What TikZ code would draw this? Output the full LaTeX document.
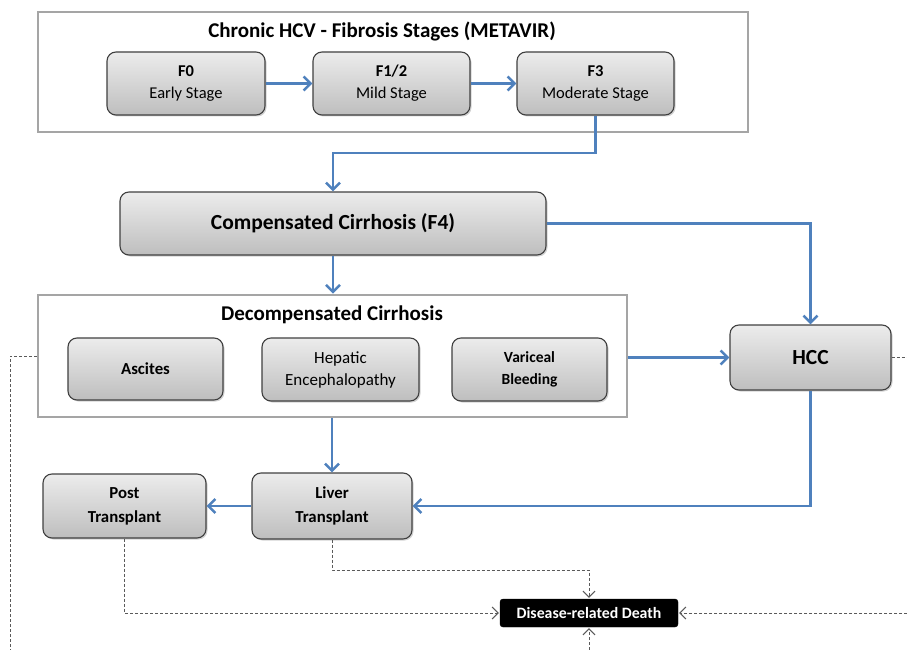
\documentclass[tikz,border=0pt]{standalone}
\usepackage{fontspec}
\setmainfont{Carlito}
\usetikzlibrary{arrows.meta,shadows,calc}
\definecolor{arrblue}{RGB}{79,129,189}
\definecolor{framegray}{RGB}{165,165,165}
\definecolor{boxtop}{RGB}{236,236,236}
\definecolor{boxbot}{RGB}{190,190,190}
\definecolor{dashgray}{RGB}{90,90,90}
\tikzset{
  stagebox/.style={draw=black!75, line width=1.1pt, rounded corners=9pt,
    top color=boxtop, bottom color=boxbot,
    drop shadow={shadow xshift=1.5pt, shadow yshift=-1.5pt, opacity=0.35},
    align=center, inner sep=0pt, font=\fontsize{16.5}{22}\selectfont},
  framebox/.style={draw=framegray, line width=2.6pt, fill=white, inner sep=0pt},
  flow/.style={draw=arrblue, line width=2.8pt, -{Straight Barb[length=7pt,width=14pt,line width=2.6pt]}},
  dashline/.style={draw=dashgray, line width=0.9pt, densely dashed},
  dasharr/.style={draw=dashgray, line width=0.9pt, densely dashed, -{Straight Barb[length=6pt,width=12pt,line width=1pt,sep=1pt]}},
  deathbox/.style={fill=black, draw=black, rounded corners=3pt, text=white, font=\bfseries\fontsize{15.8}{18}\selectfont, inner sep=0pt},
  titletext/.style={font=\bfseries\fontsize{21}{25}\selectfont, inner sep=0pt},
  boldlabel/.style={font=\bfseries\fontsize{16.8}{24}\selectfont},
  biglabel/.style={font=\bfseries\fontsize{21.5}{25}\selectfont},
}
\begin{document}
\begin{tikzpicture}[x=1pt,y=-1pt]
\useasboundingbox (0,0) rectangle (907,650);
% frames
\node[framebox, minimum width=710pt, minimum height=120pt] (fib) at (393,72) {};
\node[titletext] (fibt) at (382,31) {Chronic HCV - Fibrosis Stages (METAVIR)};
\node[framebox, minimum width=589pt, minimum height=122pt] (dec) at (332.5,356) {};
\node[titletext] (dect) at (332,315) {Decompensated Cirrhosis};
% stage boxes
\node[stagebox, minimum width=158pt, minimum height=63pt] (f0) at (186,83.5) {\textbf{F0}\\Early Stage};
\node[stagebox, minimum width=157pt, minimum height=63pt] (f12) at (391.5,83.5) {\textbf{F1/2}\\Mild Stage};
\node[stagebox, minimum width=157pt, minimum height=63pt] (f3) at (595.5,83.5) {\textbf{F3}\\Moderate Stage};
\node[stagebox, biglabel, minimum width=426pt, minimum height=63pt] (comp) at (333,223.5) {Compensated Cirrhosis (F4)};
\node[stagebox, boldlabel, minimum width=155pt, minimum height=62pt] (asc) at (145.5,369) {Ascites};
\node[stagebox, minimum width=157pt, minimum height=63pt, font=\fontsize{17}{22}\selectfont] (hep) at (340.5,369.5) {Hepatic\\Encephalopathy};
\node[stagebox, minimum width=155pt, minimum height=63pt, font=\bfseries\fontsize{15.5}{22}\selectfont] (var) at (529.5,369.5) {Variceal\\Bleeding};
\node[stagebox, biglabel, minimum width=161pt, minimum height=65pt] (hcc) at (810.5,357.5) {HCC};
\node[stagebox, boldlabel, minimum width=160pt, minimum height=66pt] (liv) at (332,506) {Liver\\Transplant};
\node[stagebox, boldlabel, minimum width=163pt, minimum height=64pt] (post) at (124.5,506) {Post\\Transplant};
\node[deathbox, minimum width=178pt, minimum height=28pt] (death) at (589,613) {Disease-related Death};
% helper coordinates
\coordinate (k1) at (0,153);
\coordinate (k2) at (0,570);
\coordinate (e1) at (10,650);
\coordinate (e2) at (907,357.5);
\coordinate (e3) at (907,613);
\coordinate (e4) at (589,650);
% blue flow
\draw[flow] (f0.east) -- (f12.west);
\draw[flow] (f12.east) -- (f3.west);
\draw[flow] (f3.south) -- (f3.south |- k1) -| (comp.north);
\draw[flow] (comp.east) -| (hcc.north);
\draw[flow] (comp.south) -- (dec.north -| comp.south);
\draw[flow] (dec.east |- hcc.west) -- (hcc.west);
\draw[flow] (dec.south -| liv.north) -- (liv.north);
\draw[flow] (hcc.south) |- (liv.east);
\draw[flow] (liv.west) -- (post.east);
% dashed
\draw[dasharr] (liv.south) -- (liv.south |- k2) -| (death.north);
\draw[dasharr] (post.south) |- (death.west);
\draw[dashline] (dec.west) -| (e1);
\draw[dashline] (hcc.east) -- (e2);
\draw[dasharr] (e3) -- (death.east);
\draw[dasharr] (e4) -- (death.south);
\end{tikzpicture}
\end{document}
